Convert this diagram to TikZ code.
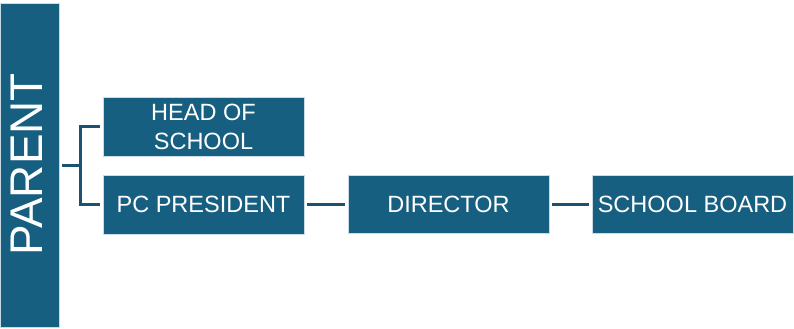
\documentclass[tikz,border=0pt]{standalone}
\usepackage{fontspec}
\setmainfont{Liberation Sans}
\definecolor{boxblue}{HTML}{175F80}
\definecolor{edgeblue}{HTML}{C9DCE6}
\definecolor{linkblue}{HTML}{1B5272}
\begin{document}
\begin{tikzpicture}[x=1bp,y=-1bp,
  orgbox/.style={draw=edgeblue,line width=0.8bp,fill=boxblue,text=white,inner sep=0pt,
    minimum width=201bp,minimum height=58bp,align=center,
    font=\fontsize{23.6}{29}\selectfont},
  link/.style={draw=linkblue,line width=3bp}]
\useasboundingbox (0,0) rectangle (794,328);
\node[draw=edgeblue,line width=0.8bp,fill=boxblue,inner sep=0pt,minimum width=59bp,minimum height=324bp] (parent) at (29.5,165) {};
\node[text=white,rotate=90,inner sep=0pt,font=\fontsize{46}{50}\selectfont] (ptext) at (26.5,164.5) {PARENT};
\node[orgbox,minimum height=59bp] (head) at (203.5,126.5) {HEAD OF\\SCHOOL};
\node[orgbox,minimum height=59bp] (pc) at (203.5,204.5) {PC PRESIDENT};
\node[orgbox] (dir) at (448.5,204) {DIRECTOR};
\node[orgbox] (sb) at (692.5,204) {SCHOOL BOARD};
\coordinate (j) at (80,165);
\draw[link] ([xshift=3bp]parent.east |- j) -- (j);
\draw[link] (head.west |- 0,126) ++(-3,0) -| (j) |- ([xshift=-3bp]pc.west |- 0,204);
\draw[link] ([xshift=3bp]pc.east |- 0,204) -- ([xshift=-3bp]dir.west |- 0,204);
\draw[link] ([xshift=3bp]dir.east |- 0,204) -- ([xshift=-3bp]sb.west |- 0,204);
\end{tikzpicture}
\end{document}
